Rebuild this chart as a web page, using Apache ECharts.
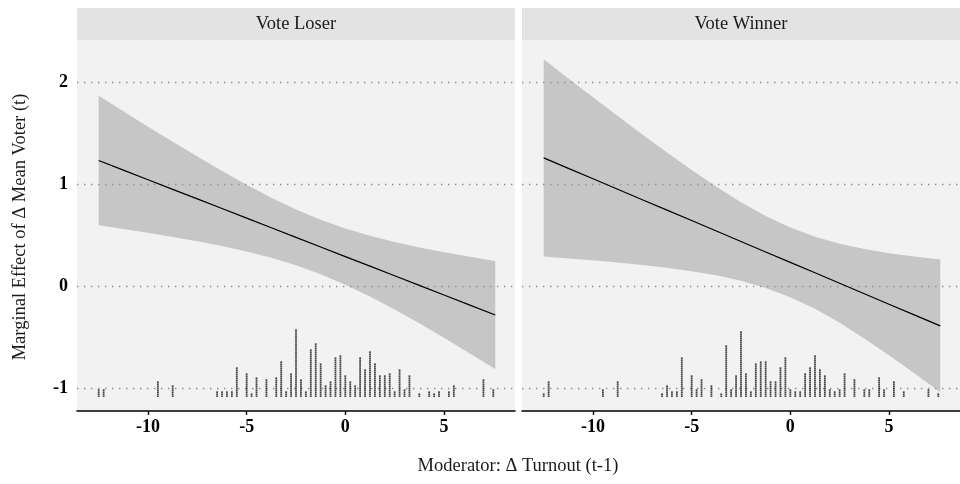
<!DOCTYPE html>
<html>
<head>
<meta charset="utf-8">
<title>Marginal effect</title>
<script src="https://cdn.jsdelivr.net/npm/echarts@6/dist/echarts.min.js"></script>
<style>
  html, body { margin: 0; padding: 0; background: #ffffff; }
  #main { width: 960px; height: 484px; }
</style>
</head>
<body>
<div id="main"></div>
<script>
// x points where the fit and band were read
const fitX = [-12.5, -11.25, -10, -8.75, -7.5, -6.25, -5, -3.75, -2.5, -1.25, 0, 1.25, 2.5, 3.75, 5, 6.25, 7.6];

// Vote Loser
const loserFit   = [1.229, 1.135, 1.041, 0.947, 0.853, 0.759, 0.665, 0.570, 0.476, 0.382, 0.288, 0.194, 0.100, 0.006, -0.089, -0.183, -0.284];
const loserUpper = [1.863, 1.712, 1.561, 1.413, 1.268, 1.127, 0.992, 0.865, 0.749, 0.648, 0.563, 0.491, 0.430, 0.378, 0.330, 0.288, 0.245];
const loserLower = [0.595, 0.559, 0.521, 0.481, 0.438, 0.391, 0.338, 0.276, 0.203, 0.116, 0.013, -0.103, -0.230, -0.366, -0.508, -0.654, -0.813];

// Vote Winner
const winnerFit   = [1.255, 1.152, 1.050, 0.948, 0.845, 0.743, 0.641, 0.538, 0.436, 0.333, 0.231, 0.129, 0.026, -0.076, -0.179, -0.281, -0.391];
const winnerUpper = [2.221, 2.034, 1.849, 1.666, 1.485, 1.308, 1.137, 0.972, 0.821, 0.685, 0.572, 0.482, 0.413, 0.362, 0.320, 0.288, 0.259];
const winnerLower = [0.289, 0.270, 0.251, 0.230, 0.205, 0.178, 0.145, 0.104, 0.051, -0.019, -0.110, -0.224, -0.361, -0.514, -0.678, -0.850, -1.041];

// distribution of the moderator (number of obs. per value)
const loserRugX = [-12.5, -12.25, -9.5, -8.75, -6.5, -6.25, -6, -5.75, -5.5, -5, -4.75, -4.5, -4, -3.5, -3.25, -3,
  -2.75, -2.5, -2.25, -2, -1.75, -1.5, -1.25, -1, -0.75, -0.5, -0.25, 0, 0.25, 0.5, 0.75, 1, 1.25, 1.5,
  1.75, 2, 2.25, 2.5, 2.75, 3, 3.25, 3.75, 4.25, 4.5, 4.75, 5.25, 5.5, 7, 7.5];
const loserRugN = [4, 4, 8, 6, 3, 3, 3, 3, 15, 12, 2, 10, 9, 10, 18, 3,
  12, 34, 9, 3, 24, 27, 17, 6, 8, 20, 21, 11, 8, 6, 20, 14, 23, 17,
  11, 11, 12, 3, 14, 4, 11, 2, 3, 2, 3, 3, 6, 9, 4];

const winnerRugX = [-12.5, -12.25, -9.5, -8.75, -6.5, -6.25, -6, -5.75, -5.5, -5, -4.75, -4.5, -4, -3.5, -3.25, -3,
  -2.75, -2.5, -2.25, -2, -1.75, -1.5, -1.25, -1, -0.75, -0.5, -0.25, 0, 0.25, 0.5, 0.75, 1, 1.25, 1.5,
  1.75, 2, 2.25, 2.5, 2.75, 3.25, 3.75, 4, 4.5, 4.75, 5.25, 5.75, 7, 7.5];
const winnerRugN = [2, 8, 4, 8, 2, 6, 3, 3, 20, 11, 4, 9, 6, 2, 26, 4,
  11, 33, 12, 3, 17, 18, 18, 8, 8, 15, 20, 4, 3, 3, 12, 15, 21, 14,
  11, 4, 3, 4, 12, 9, 4, 4, 10, 4, 8, 3, 4, 2];

const yTicks = [-1, 0, 1, 2];
const xTicks = [-10, -5, 0, 5];
const panels = ['Vote Loser', 'Vote Winner'];

const rugBase = -1.085;   // bottom of the dot columns
const rugStep = 0.0196;   // height of one observation

const font = 'Liberation Serif, Times New Roman, serif';
const panelLeft = [77, 522];
const panelWidth = 438;

const myChart = echarts.init(document.getElementById('main'));

function bandItem(upper, lower) {
  return function (params, api) {
    const pts = [];
    for (let i = 0; i < fitX.length; i++) pts.push(api.coord([fitX[i], upper[i]]));
    for (let i = fitX.length - 1; i >= 0; i--) pts.push(api.coord([fitX[i], lower[i]]));
    return {
      type: 'polygon',
      shape: { points: pts },
      style: { fill: 'rgba(153,153,153,0.5)' }
    };
  };
}

function rugItem(params, api) {
  const x = api.value(0);
  const n = api.value(1);
  const p0 = api.coord([x, rugBase]);
  const p1 = api.coord([x, rugBase + n * rugStep]);
  return {
    type: 'line',
    shape: { x1: p0[0], y1: p0[1], x2: p1[0], y2: p1[1] },
    style: { stroke: '#111', lineWidth: 1.8, lineDash: [1.2, 0.8] }
  };
}

function panelSeries(idx, fit, upper, lower, rugX, rugN) {
  return [
    {
      type: 'custom',
      xAxisIndex: idx, yAxisIndex: idx,
      renderItem: bandItem(upper, lower),
      data: [[fitX[0], fit[0]]],
      silent: true
    },
    {
      type: 'line',
      xAxisIndex: idx, yAxisIndex: idx,
      data: fitX.map((x, i) => [x, fit[i]]),
      showSymbol: false,
      lineStyle: { color: '#000', width: 1.2 },
      silent: true
    },
    {
      type: 'custom',
      xAxisIndex: idx, yAxisIndex: idx,
      renderItem: rugItem,
      data: rugX.map((x, i) => [x, rugN[i]]),
      silent: true
    }
  ];
}

const option = {
  animation: false,
  grid: panelLeft.map(l => ({
    left: l, top: 40, width: panelWidth, height: 371,
    show: true, backgroundColor: '#f2f2f2', borderWidth: 0
  })),
  xAxis: [0, 1].map(i => ({
    type: 'value', gridIndex: i, min: -13.6, max: 8.6,
    axisLine: { show: true, onZero: false, lineStyle: { color: '#000', width: 1.6 } },
    axisTick: { show: true, length: 4, lineStyle: { color: '#000', width: 1.4 },
      customValues: xTicks },
    axisLabel: { color: '#000', fontFamily: font, fontSize: 18, fontWeight: 'bold', margin: 7,
      customValues: xTicks },
    splitLine: { show: false }
  })),
  yAxis: [0, 1].map(i => ({
    type: 'value', gridIndex: i, min: -1.225, max: 2.41,
    axisLine: { show: false },
    axisTick: { show: false, customValues: yTicks },
    axisLabel: { show: i === 0, color: '#000', fontFamily: font, fontSize: 18, fontWeight: 'bold',
      margin: 9, customValues: yTicks },
    splitLine: { show: true, showMinLine: true, showMaxLine: true,
      lineStyle: { color: '#8c8c8c', width: 1.4, type: [1.4, 5.6] } }
  })),
  series: [].concat(
    panelSeries(0, loserFit, loserUpper, loserLower, loserRugX, loserRugN),
    panelSeries(1, winnerFit, winnerUpper, winnerLower, winnerRugX, winnerRugN)
  ),
  graphic: [
    // facet strips
    ...panels.map((name, i) => ({
      type: 'group', left: panelLeft[i], top: 8,
      children: [
        { type: 'rect', shape: { x: 0, y: 0, width: panelWidth, height: 32 }, style: { fill: '#e3e3e3' } },
        { type: 'text', x: panelWidth / 2, y: 16,
          style: { text: name, font: '18.5px ' + font, fill: '#1a1a1a', textAlign: 'center', textVerticalAlign: 'middle' } }
      ]
    })),
    { type: 'text', x: 20, y: 227, rotation: Math.PI / 2,
      style: { text: 'Marginal Effect of Δ Mean Voter (t)', font: '18.5px ' + font, fill: '#1a1a1a',
        textAlign: 'center', textVerticalAlign: 'middle' } },
    { type: 'text', x: 518, y: 466,
      style: { text: 'Moderator: Δ Turnout (t-1)', font: '18.5px ' + font, fill: '#1a1a1a',
        textAlign: 'center', textVerticalAlign: 'middle' } }
  ]
};

myChart.setOption(option);
</script>
</body>
</html>
